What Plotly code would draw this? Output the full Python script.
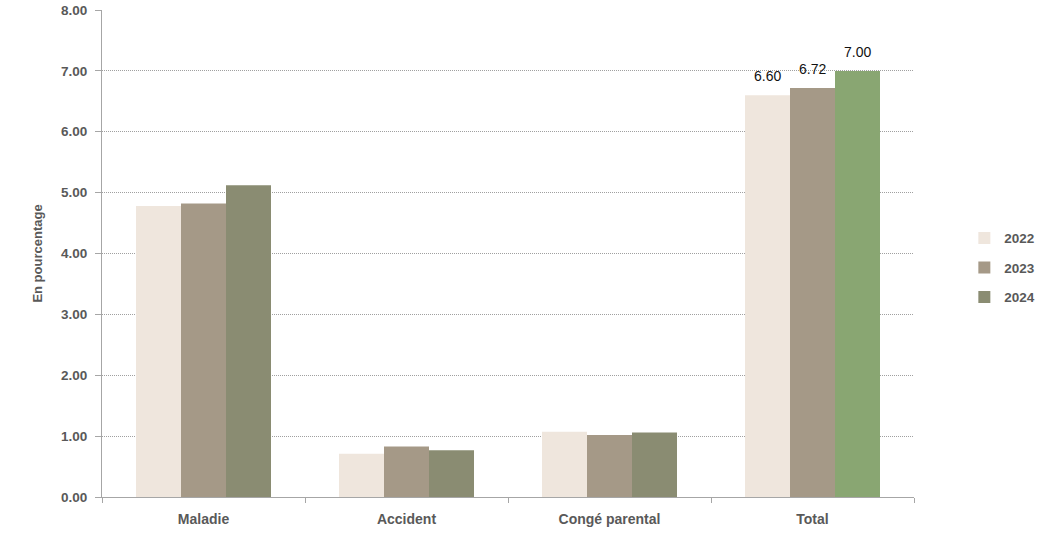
import plotly.graph_objects as go

categories = ["Maladie", "Accident", "Congé parental", "Total"]
years = ["2022", "2023", "2024"]
values_2022 = [4.78, 0.71, 1.07, 6.60]
values_2023 = [4.82, 0.83, 1.02, 6.72]
values_2024 = [5.12, 0.77, 1.06, 7.00]

series = {"2022": values_2022, "2023": values_2023, "2024": values_2024}
colors = {
    "2022": ["#efe6dd"] * 4,
    "2023": ["#a59987"] * 4,
    "2024": ["#8a8c72", "#8a8c72", "#8a8c72", "#89a672"],
}

FONT = "Liberation Sans, Arial"
BARGAP = 0.335
PLOT_W = 1063 - 102 - 149

fig = go.Figure()
for y in years:
    fig.add_trace(go.Bar(
        x=categories, y=series[y], name=f"<b>{y}</b>", legendgroup=y,
        marker=dict(color=colors[y], line=dict(width=0)),
    ))

# value labels above the Total bars
bar_px = PLOT_W / len(categories) * (1 - BARGAP) / len(years)
for i, y in enumerate(years):
    v = series[y][categories.index("Total")]
    fig.add_annotation(
        x="Total", y=v, text=f"{v:.2f}", showarrow=False,
        xshift=(i - 1) * bar_px, yanchor="bottom", yshift=9,
        font=dict(family=FONT, size=14, color="#111111"),
    )

fig.update_layout(
    template="none",
    width=1063, height=535,
    margin=dict(l=102, r=149, t=10, b=38, autoexpand=False),
    paper_bgcolor="white", plot_bgcolor="white",
    barmode="group", bargap=BARGAP, bargroupgap=0,
    font=dict(family=FONT, color="#595959"),
    legend=dict(
        x=1.062, y=0.471, xanchor="left", yanchor="middle",
        font=dict(size=13.5, color="#595959", family=FONT),
        traceorder="grouped", itemwidth=30, tracegroupgap=9,
    ),
)
fig.update_xaxes(
    automargin=False,
    tickson="boundaries", ticks="outside", ticklen=5, tickcolor="#a6a6a6",
    showline=True, linecolor="#a6a6a6", linewidth=1, showgrid=False,
    tickfont=dict(size=14, color="#595959", family=FONT),
    tickvals=categories, ticktext=[f"<b>{c}</b>" for c in categories],
    ticklabelstandoff=9,
)
fig.update_yaxes(
    automargin=False,
    range=[0, 8],
    tickvals=list(range(9)), ticktext=[f"<b>{v:.2f}</b>" for v in range(9)],
    ticks="outside", ticklen=6, tickcolor="#a6a6a6",
    showline=True, linecolor="#a6a6a6", linewidth=1,
    showgrid=True, gridcolor="#a0a0a0", griddash="1px,1px", gridwidth=1,
    zeroline=False,
    tickfont=dict(size=13.5, color="#595959", family=FONT),
    ticklabelstandoff=5,
    title=dict(text="<b>En pourcentage</b>", font=dict(size=13, color="#595959", family=FONT), standoff=15),
)

fig.write_html("out.html")
